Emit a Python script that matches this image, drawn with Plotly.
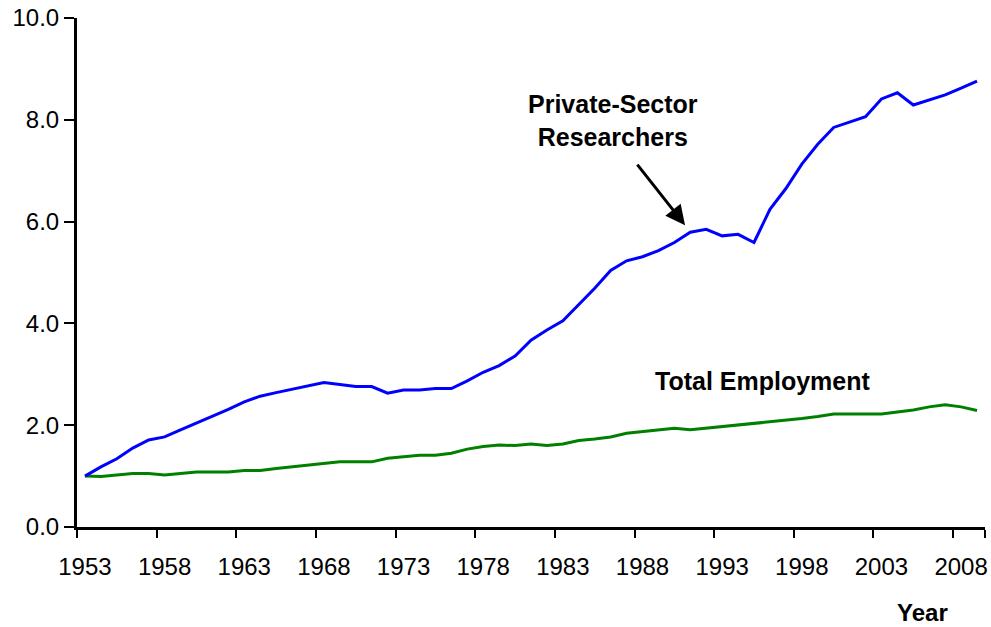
import plotly.graph_objects as go

years = list(range(1953, 2010))

# index, 1953 = 1.0
researchers = [
    1.00, 1.18, 1.34, 1.55, 1.71, 1.77, 1.91, 2.04, 2.17, 2.31,
    2.46, 2.57, 2.64, 2.71, 2.77, 2.84, 2.80, 2.76, 2.76, 2.63,
    2.69, 2.69, 2.72, 2.72, 2.87, 3.04, 3.17, 3.36, 3.67, 3.87,
    4.05, 4.36, 4.69, 5.04, 5.23, 5.31, 5.43, 5.59, 5.79, 5.85,
    5.72, 5.75, 5.59, 6.24, 6.65, 7.13, 7.52, 7.85, 7.96, 8.06,
    8.41, 8.53, 8.29, 8.39, 8.49, 8.62, 8.76,
]
employment = [
    1.00, 0.99, 1.02, 1.05, 1.05, 1.02, 1.05, 1.08, 1.08, 1.08,
    1.11, 1.11, 1.15, 1.18, 1.21, 1.25, 1.28, 1.28, 1.28, 1.35,
    1.38, 1.41, 1.41, 1.45, 1.53, 1.58, 1.61, 1.60, 1.63, 1.60,
    1.63, 1.70, 1.73, 1.77, 1.84, 1.87, 1.91, 1.94, 1.91, 1.94,
    1.97, 2.00, 2.04, 2.07, 2.10, 2.13, 2.17, 2.22, 2.22, 2.22,
    2.22, 2.26, 2.30, 2.36, 2.40, 2.36, 2.29,
]

label_years = list(range(1953, 2009, 5))
y_ticks = [0, 2, 4, 6, 8, 10]

font = "Liberation Sans, Arial, sans-serif"

fig = go.Figure()
fig.add_trace(go.Scatter(x=years, y=employment, mode="lines",
                         line=dict(color="#008000", width=3)))
fig.add_trace(go.Scatter(x=years, y=researchers, mode="lines",
                         line=dict(color="#0000FF", width=3)))

fig.update_layout(
    width=991, height=627,
    margin=dict(l=77, r=6, t=18, b=100),
    paper_bgcolor="white", plot_bgcolor="white",
    showlegend=False,
    font=dict(family=font, size=24, color="black"),
    xaxis=dict(
        range=[1952.5, 2009.5], automargin=False,
        tickmode="array", tickvals=label_years,
        ticktext=[str(y) for y in label_years],
        ticks="outside", ticklen=0, tickcolor="rgba(0,0,0,0)",
        ticklabelstandoff=16, ticklabeloverflow="allow",
        minor=dict(tickmode="array",
                   tickvals=[y - 0.5 for y in label_years] + [2009.5],
                   ticks="outside", ticklen=8, tickwidth=2, tickcolor="black",
                   showgrid=False),
        showline=True, linecolor="black", linewidth=3,
        showgrid=False, zeroline=False,
    ),
    yaxis=dict(
        range=[0, 10], automargin=False,
        tickvals=y_ticks, ticktext=[f"{v:.1f}" for v in y_ticks],
        ticks="outside", ticklen=10, tickwidth=2, tickcolor="black",
        ticklabeloverflow="allow",
        showline=True, linecolor="black", linewidth=3,
        showgrid=False, zeroline=False,
    ),
)

fig.add_annotation(x=1986.15, y=7.98, text="<b>Private-Sector<br>Researchers</b>",
                   showarrow=False, font=dict(size=25))
fig.add_annotation(x=1995.56, y=2.87, text="<b>Total Employment</b>",
                   showarrow=False, font=dict(size=25))
fig.add_annotation(x=1990.67, y=5.93, ax=1987.6, ay=7.15, axref="x", ayref="y",
                   text="", showarrow=True, arrowhead=2, arrowsize=1.3,
                   arrowwidth=3, arrowcolor="black")
fig.add_annotation(x=0.931, y=-0.167, xref="paper", yref="paper",
                   xanchor="center", yanchor="middle", text="<b>Year</b>",
                   showarrow=False, font=dict(size=24))

# drop the default body margin so the figure fills the window exactly
fig.write_html("out.html", config={"displayModeBar": False},
               post_script="document.body.style.margin='0px';")
